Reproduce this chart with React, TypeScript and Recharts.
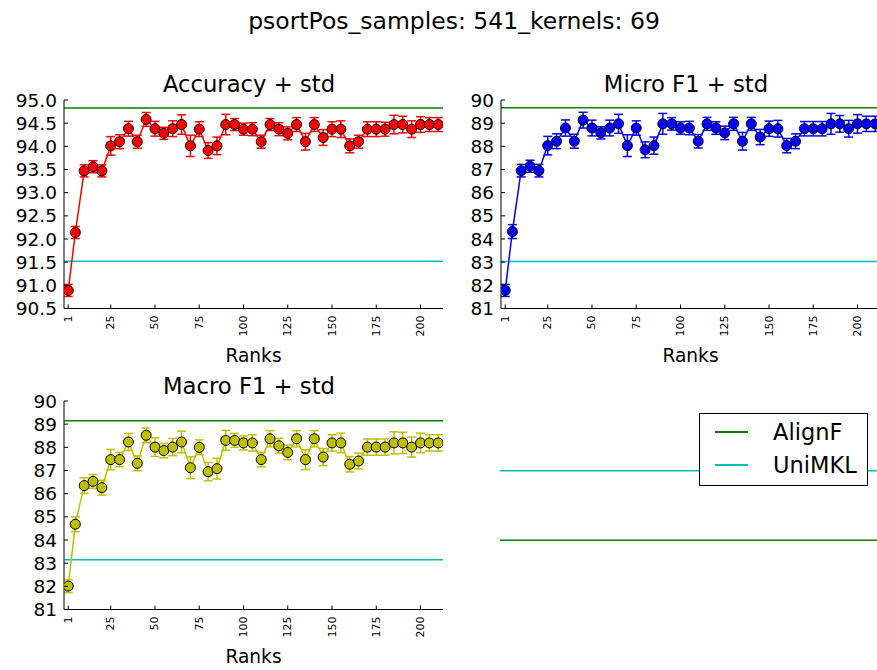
import React from "react";
import { ComposedChart, ErrorBar, Legend, Line, ReferenceLine, XAxis, YAxis } from "recharts";

const ranks = [
  1, 5, 10, 15, 20, 25, 30, 35, 40, 45, 50, 55, 60, 65, 70, 75, 80, 85, 90, 95, 100, 105,
  110, 115, 120, 125, 130, 135, 140, 145, 150, 155, 160, 165, 170, 175, 180, 185, 190, 195,
  200, 205, 210,
];

const accuracyMean = [
  90.89, 92.14, 93.47, 93.56, 93.47, 94.01, 94.1, 94.38, 94.1, 94.58, 94.38, 94.28, 94.38,
  94.47, 94.01, 94.37, 93.91, 94.01, 94.47, 94.47, 94.37, 94.37, 94.1, 94.47, 94.37, 94.28,
  94.47, 94.1, 94.47, 94.19, 94.37, 94.37, 94.01, 94.1, 94.37, 94.37, 94.37, 94.47, 94.47,
  94.37, 94.47, 94.47, 94.47,
];
const accuracyStd = [
  0.13, 0.13, 0.13, 0.13, 0.13, 0.2, 0.15, 0.16, 0.14, 0.15, 0.16, 0.13, 0.17, 0.21, 0.23,
  0.16, 0.17, 0.19, 0.22, 0.13, 0.13, 0.14, 0.14, 0.13, 0.14, 0.14, 0.15, 0.18, 0.15, 0.17,
  0.16, 0.18, 0.15, 0.14, 0.16, 0.16, 0.15, 0.2, 0.18, 0.18, 0.17, 0.15, 0.15,
];

const microMean = [
  81.78, 84.32, 86.95, 87.14, 86.95, 88.03, 88.22, 88.79, 88.22, 89.13, 88.79, 88.58, 88.79,
  88.97, 88.03, 88.79, 87.85, 88.03, 88.97, 88.97, 88.79, 88.79, 88.22, 88.97, 88.79, 88.58,
  88.97, 88.22, 88.97, 88.4, 88.76, 88.76, 88.03, 88.22, 88.76, 88.76, 88.76, 88.97, 88.97,
  88.76, 88.97, 88.97, 88.97,
];
const microStd = [
  0.26, 0.3, 0.27, 0.26, 0.27, 0.4, 0.32, 0.35, 0.3, 0.34, 0.34, 0.26, 0.34, 0.41, 0.47, 0.31,
  0.34, 0.37, 0.45, 0.27, 0.27, 0.29, 0.29, 0.28, 0.27, 0.29, 0.28, 0.38, 0.28, 0.33, 0.33,
  0.36, 0.31, 0.32, 0.31, 0.31, 0.31, 0.45, 0.36, 0.36, 0.4, 0.33, 0.33,
];

const macroMean = [
  82.01, 84.68, 86.35, 86.53, 86.26, 87.47, 87.47, 88.23, 87.31, 88.52, 88.01, 87.86, 88.01,
  88.23, 87.12, 88.0, 86.95, 87.08, 88.3, 88.3, 88.19, 88.19, 87.47, 88.37, 88.07, 87.78,
  88.37, 87.47, 88.37, 87.58, 88.19, 88.19, 87.27, 87.41, 88.01, 88.01, 88.01, 88.19, 88.19,
  88.01, 88.19, 88.19, 88.19,
];
const macroStd = [
  0.28, 0.32, 0.34, 0.3, 0.32, 0.44, 0.31, 0.37, 0.32, 0.32, 0.4, 0.31, 0.37, 0.47, 0.47, 0.32,
  0.4, 0.45, 0.43, 0.3, 0.3, 0.35, 0.31, 0.35, 0.32, 0.32, 0.35, 0.43, 0.35, 0.37, 0.35, 0.42,
  0.33, 0.34, 0.35, 0.35, 0.35, 0.48, 0.46, 0.43, 0.42, 0.35, 0.35,
];

// baselines per panel: accuracy, micro F1, macro F1
const alignFLevels = [94.83, 89.67, 89.15];
const uniMKLLevels = [91.52, 83.03, 83.15];

const rankTicks = [1, 25, 50, 75, 100, 125, 150, 175, 200];
const accuracyTicks = [90.5, 91.0, 91.5, 92.0, 92.5, 93.0, 93.5, 94.0, 94.5, 95.0];
const f1Ticks = [81, 82, 83, 84, 85, 86, 87, 88, 89, 90];

const legendNames = ["AlignF", "UniMKL"];
const legendColors = ["#008000", "#00bfbf"];
// the spare 4th axes only shows the two baselines on an unlabeled 0..1 scale
const legendPanelX = [0, 1];
const legendPanelAlignF = [0.332, 0.332];
const legendPanelUniMKL = [0.665, 0.665];

const FONT = "'DejaVu Sans', sans-serif";
const PLOT_W = 379;
const PLOT_H = 208.5;

const bottomTick = (props: any) => {
  const { x, y, payload } = props;
  return (
    <g>
      <line x1={x} x2={x} y1={y} y2={y - 4} stroke="#000" />
      <text
        x={x}
        y={y + 7}
        transform={`rotate(-90, ${x}, ${y + 7})`}
        textAnchor="end"
        dominantBaseline="central"
        fontSize={11}
        fontFamily={FONT}
        fill="#000"
      >
        {payload.value}
      </text>
    </g>
  );
};

const topTick = (props: any) => {
  const { x, y } = props;
  return <line x1={x} x2={x} y1={y} y2={y + 4} stroke="#000" />;
};

const makeLeftTick = (digits: number) => (props: any) => {
  const { x, y, payload } = props;
  return (
    <g>
      <line x1={x} x2={x + 4} y1={y} y2={y} stroke="#000" />
      <text
        x={x - 7}
        y={y}
        textAnchor="end"
        dominantBaseline="central"
        fontSize={18.5}
        fontFamily={FONT}
        fill="#000"
      >
        {Number(payload.value).toFixed(digits)}
      </text>
    </g>
  );
};

const rightTick = (props: any) => {
  const { x, y } = props;
  return <line x1={x} x2={x - 4} y1={y} y2={y} stroke="#000" />;
};

type PanelProps = {
  left: number;
  top: number;
  mean: number[];
  std: number[];
  color: string;
  yDomain: [number, number];
  yTicks: number[];
  digits: number;
  alignF: number;
  uniMKL: number;
};

function Panel({ left, top, mean, std, color, yDomain, yTicks, digits, alignF, uniMKL }: PanelProps) {
  const data = ranks.map((rank, i) => ({ rank, mean: mean[i], std: std[i] }));
  return (
    <div style={{ position: "absolute", left: left - 60, top: top - 10 }}>
      <ComposedChart
        width={PLOT_W + 70}
        height={PLOT_H + 50}
        data={data}
        margin={{ top: 10, right: 10, bottom: 5, left: 0 }}
      >
        <XAxis
          dataKey="rank"
          type="number"
          domain={[-1.4, 212.7]}
          allowDataOverflow
          ticks={rankTicks}
          interval={0}
          tickSize={0}
          tickMargin={0}
          height={35}
          stroke="#000"
          tick={bottomTick}
        />
        <XAxis
          xAxisId="top"
          orientation="top"
          dataKey="rank"
          type="number"
          domain={[-1.4, 212.7]}
          allowDataOverflow
          ticks={rankTicks}
          interval={0}
          tickSize={0}
          tickMargin={0}
          height={0}
          stroke="#000"
          tick={topTick}
        />
        <YAxis
          type="number"
          domain={yDomain}
          allowDataOverflow
          ticks={yTicks}
          interval={0}
          tickSize={0}
          tickMargin={0}
          width={60}
          stroke="#000"
          tick={makeLeftTick(digits)}
        />
        <YAxis
          yAxisId="right"
          orientation="right"
          type="number"
          domain={yDomain}
          allowDataOverflow
          ticks={yTicks}
          interval={0}
          tickSize={0}
          tickMargin={0}
          width={0}
          stroke="#000"
          tick={rightTick}
        />
        <ReferenceLine y={alignF} stroke="#008000" strokeWidth={1.5} />
        <ReferenceLine y={uniMKL} stroke="#00bfbf" strokeWidth={1.5} />
        <Line
          dataKey="mean"
          stroke={color}
          strokeWidth={1.5}
          dot={{ r: 5, fill: color, stroke: "#000", strokeWidth: 1 }}
          activeDot={false}
          isAnimationActive={false}
        >
          <ErrorBar dataKey="std" direction="y" width={4.5} stroke={color} strokeWidth={1.5} />
        </Line>
      </ComposedChart>
    </div>
  );
}

function LegendBox() {
  return (
    <div
      style={{
        boxSizing: "border-box",
        width: 169,
        height: 73,
        border: "1.3px solid #000",
        background: "#fff",
        padding: "1px 0 0 15px",
        fontFamily: FONT,
        fontSize: 22.5,
        color: "#000",
      }}
    >
      {legendNames.map((name, i) => (
        <div key={name} style={{ display: "flex", alignItems: "center", height: 33.5 }}>
          <div style={{ width: 33, height: 2, background: legendColors[i], marginRight: 25 }} />
          <span style={{ lineHeight: 1 }}>{name}</span>
        </div>
      ))}
    </div>
  );
}

function LegendPanel() {
  const data = legendPanelX.map((x, i) => ({
    x,
    alignF: legendPanelAlignF[i],
    uniMKL: legendPanelUniMKL[i],
  }));
  return (
    <div style={{ position: "absolute", left: 500, top: 401 }}>
      <ComposedChart width={400} height={PLOT_H} data={data} margin={{ top: 0, right: 0, bottom: 0, left: 0 }}>
        <XAxis dataKey="x" type="number" domain={[0, 1]} hide />
        <YAxis type="number" domain={[0, 1]} hide />
        <Line
          dataKey="alignF"
          stroke={legendColors[0]}
          strokeWidth={1.5}
          dot={false}
          activeDot={false}
          isAnimationActive={false}
        />
        <Line
          dataKey="uniMKL"
          stroke={legendColors[1]}
          strokeWidth={1.5}
          dot={false}
          activeDot={false}
          isAnimationActive={false}
        />
        <Legend
          layout="vertical"
          align="center"
          verticalAlign="middle"
          wrapperStyle={{ left: 199, top: 12, width: "auto" }}
          content={() => <LegendBox />}
        />
      </ComposedChart>
    </div>
  );
}

export default function App() {
  return (
    <div
      style={{
        position: "absolute",
        left: 0,
        top: 0,
        width: 877,
        height: 670,
        overflow: "hidden",
        background: "#fff",
        fontFamily: FONT,
      }}
    >
      <Panel
        left={64}
        top={100}
        mean={accuracyMean}
        std={accuracyStd}
        color="#ff0000"
        yDomain={[90.5, 95]}
        yTicks={accuracyTicks}
        digits={1}
        alignF={alignFLevels[0]}
        uniMKL={uniMKLLevels[0]}
      />
      <Panel
        left={501}
        top={100}
        mean={microMean}
        std={microStd}
        color="#0000ff"
        yDomain={[81, 90]}
        yTicks={f1Ticks}
        digits={0}
        alignF={alignFLevels[1]}
        uniMKL={uniMKLLevels[1]}
      />
      <Panel
        left={64}
        top={401}
        mean={macroMean}
        std={macroStd}
        color="#bfbf00"
        yDomain={[81, 90]}
        yTicks={f1Ticks}
        digits={0}
        alignF={alignFLevels[2]}
        uniMKL={uniMKLLevels[2]}
      />
      <LegendPanel />
      <svg
        width={877}
        height={670}
        style={{ position: "absolute", left: 0, top: 0, pointerEvents: "none" }}
        fontFamily={FONT}
      >
        <text x={454} y={29} textAnchor="middle" fontSize={23.5}>
          psortPos_samples: 541_kernels: 69
        </text>
        <text x={249} y={92} textAnchor="middle" fontSize={22.7}>
          Accuracy + std
        </text>
        <text x={686} y={92} textAnchor="middle" fontSize={22.7}>
          Micro F1 + std
        </text>
        <text x={253.5} y={362} textAnchor="middle" fontSize={18.6}>
          Ranks
        </text>
        <text x={690.5} y={362} textAnchor="middle" fontSize={18.6}>
          Ranks
        </text>
        <text x={249} y={393.5} textAnchor="middle" fontSize={22.7}>
          Macro F1 + std
        </text>
        <text x={253.5} y={663} textAnchor="middle" fontSize={18.6}>
          Ranks
        </text>
      </svg>
    </div>
  );
}
